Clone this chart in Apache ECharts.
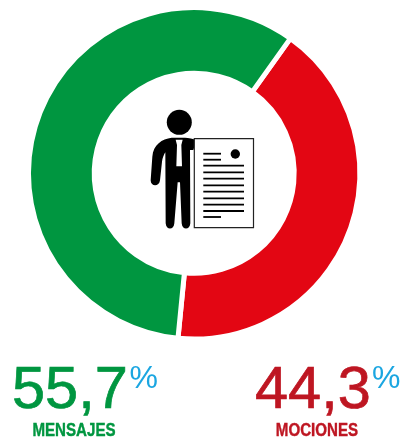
<!DOCTYPE html>
<html><head><meta charset="utf-8">
<style>html,body{margin:0;padding:0;background:#fff}#c{width:402px;height:440px}</style>
<script src="https://cdn.jsdelivr.net/npm/echarts@6/dist/echarts.min.js"></script>
</head><body><div id="c"></div>
<script>
const categories = ['MOCIONES', 'MENSAJES'];
// Printed percentages.
const printedValues = ['44,3', '55,7'];
const arcShares = [41.7, 58.3];
const sliceColors = ['#e30613', '#009640'];
const textColors = ['#be1622', '#009640'];
const chart = echarts.init(document.getElementById('c'), null, {renderer: 'canvas'});
const font = '"Liberation Sans", Arial, sans-serif';
const G = echarts.graphic;
G.registerShape('iconBody', G.extendPath('M125 128 C96 132 70 148 67 185 L62 256 C62 276 88 276 90 256 L96 200 C97 190 102 178 106 172 L107 385 C108 406 132 406 133 385 L143 262 L150 262 L155 385 C156 406 180 406 181 385 L180 165 L190 165 L200 135 C190 132 175 128 165 128 Z', {}));
G.registerShape('iconTie', G.extendPath('M137 134 L158 134 L154 150 L156 214 L139 214 L141 150 Z', {}));
const line = (x1, x2, y) => ({type: 'rect', shape: {x: x1, y: y - 0.9, width: x2 - x1, height: 1.8}, style: {fill: '#000'}, z: 12});
const docLines = [[203.3,221,153.7],[203.3,221,159.7],[203.3,244,165.7],[203.3,244,172.3],[203.3,244,178.7],[203.3,244,185.3],[203.3,244,191.7],[203.3,244,198.3],[203.3,244,204.7],[203.3,244,211],[203.3,221,217]];
const numX = [255, 12], pctX = [372, 129.5], labelX = [317, 74];
const texts = [];
categories.forEach((c, i) => {
  texts.push({type: 'text', x: numX[i], y: 361.5, style: {text: printedValues[i], font: '59.5px ' + font, fill: textColors[i], stroke: textColors[i], lineWidth: 0.7}, z: 10});
  texts.push({type: 'text', x: pctX[i], y: 363, style: {text: '%', font: '32px ' + font, fill: '#1ba6e1'}, z: 10});
  texts.push({type: 'text', x: labelX[i], y: 422, scaleX: 0.84, style: {text: c, font: 'bold 18px ' + font, fill: textColors[i], stroke: textColors[i], lineWidth: 0.4, textAlign: 'center'}, z: 10});
});
chart.setOption({
  animation: false,
  backgroundColor: '#fff',
  series: [{
    type: 'pie', silent: true, clockwise: true, startAngle: 54.5,
    center: [194.2, 173.3], radius: [100, 165.7],
    label: {show: false}, labelLine: {show: false},
    itemStyle: {borderColor: '#fff', borderWidth: 5},
    data: categories.map((c, i) => ({name: c, value: arcShares[i], itemStyle: {color: sliceColors[i]}}))
  }],
  graphic: [
    {type: 'circle', shape: {cx: 179.3, cy: 122.3, r: 12.5}, style: {fill: '#000'}, z: 10},
    {type: 'group', x: 130, y: 95, scaleX: 1/3, scaleY: 1/3, z: 10, children: [
      {type: 'iconBody', z: 10, style: {fill: '#000'}},
      {type: 'iconTie', z: 11, style: {fill: '#fff'}}
    ]},
    {type: 'rect', shape: {x: 194.3, y: 138.6, width: 59.2, height: 89}, style: {fill: '#fff', stroke: '#222', lineWidth: 1.2}, z: 11},
    {type: 'circle', shape: {cx: 235.3, cy: 154, r: 4.7}, style: {fill: '#000'}, z: 12},
    ...docLines.map(l => line(l[0], l[1], l[2])),
    ...texts
  ]
});
</script></body></html>
